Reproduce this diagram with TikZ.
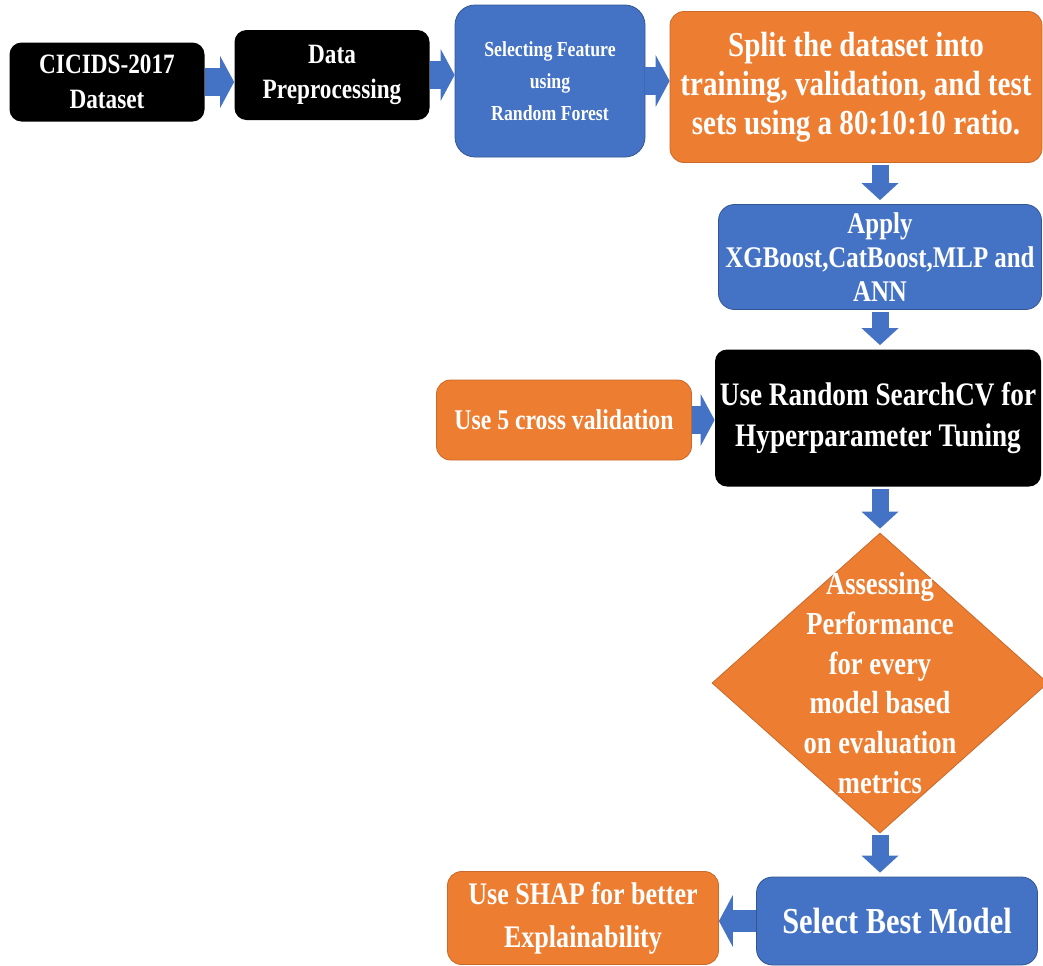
\documentclass[tikz,border=0pt]{standalone}
\usepackage{fontspec}
\setmainfont[FakeStretch=0.83]{Liberation Serif}
\usepackage{tikz}
\usetikzlibrary{shapes.geometric,arrows.meta}
\definecolor{ppblue}{HTML}{4472C4}
\definecolor{pporange}{HTML}{ED7D31}
\newcommand{\fsz}[2]{\fontsize{#1}{#2}\selectfont}
\tikzstyle{blackbox} = [rectangle, rounded corners=6pt, fill=black, text=white,
                     align=center, inner sep=0pt]
\tikzstyle{bluebox} = [rectangle, rounded corners=8pt, draw=ppblue!75!black, fill=ppblue,
                     text=white, align=center, inner sep=0pt]
\tikzstyle{orangebox} = [rectangle, rounded corners=7pt, draw=pporange!85!black, fill=pporange,
                     text=white, align=center, inner sep=0pt]
\tikzstyle{decision} = [diamond, draw=pporange!85!black, fill=pporange, inner sep=0pt]
\tikzstyle{harrow} = [ppblue, line width=14pt, -{Triangle[width=26pt,length=7pt,line width=0pt]}]
\tikzstyle{varrow} = [ppblue, line width=8.5pt, shorten <=1pt, shorten >=2pt,
                     -{Triangle[width=18.5pt,length=8.5pt,line width=0pt]}]

\begin{document}
\begin{tikzpicture}[x=0.5pt, y=-0.5pt]
\useasboundingbox (0,0) rectangle (1043,965);
%top row
\node[blackbox, minimum width=97.5pt, minimum height=39.5pt, font=\bfseries\fsz{14}{17.5}] at (107,82) (dataset){CICIDS-2017\\Dataset};
\node[blackbox, minimum width=97.5pt, minimum height=45pt, font=\bfseries\fsz{14}{17.5}] at (332,75) (prep){Data\\Preprocessing};
\node[bluebox, rounded corners=10pt, minimum width=95pt, minimum height=76pt, font=\bfseries\fsz{10.7}{16}] at (550,81) (feat){Selecting Feature\\using\\Random Forest};
\node[orangebox, minimum width=186pt, minimum height=75.5pt, font=\bfseries\fsz{17.5}{19.5}] at (856,87) (split){Split the dataset into\\training, validation, and test\\sets using a 80:10:10 ratio.};

%models and tuning
\node[bluebox, minimum width=161.5pt, minimum height=52.5pt, font=\bfseries\fsz{15}{17}] at (880,257) (apply){Apply\\XGBoost,CatBoost,MLP and\\ANN};
\node[orangebox, minimum width=127.5pt, minimum height=40pt, font=\bfseries\fsz{14.3}{17}] at (564,420) (cv){Use 5 cross validation};
\node[blackbox, minimum width=163pt, minimum height=68.5pt, font=\bfseries\fsz{16.4}{20.5}] at (878,418) (tune){Use Random SearchCV for\\Hyperparameter Tuning};

%evaluation
\node[decision, minimum width=168pt, minimum height=150pt] at (880,683) (assess){};
\node[text=white, align=center, font=\bfseries\fsz{16}{19.9}] at (880,683) (assesstxt){Assessing\\Performance\\for every\\model based\\on evaluation\\metrics};

%result
\node[bluebox, minimum width=140.5pt, minimum height=44pt, font=\bfseries\fsz{18.3}{21}] at (897,921) (best){Select Best Model};
\node[orangebox, minimum width=135.5pt, minimum height=46.5pt, font=\bfseries\fsz{15.7}{21.5}] at (583,918) (shap){Use SHAP for better\\Explainability};

%arrows
\coordinate (col) at (880,0);
\draw[harrow] (dataset.east) -- (dataset.east -| prep.west);
\draw[harrow] (prep.east) -- (prep.east -| feat.west);
\draw[harrow] (feat.east) -- (feat.east -| split.west);
\draw[varrow] (split.south -| col) -- (apply.north -| col);
\draw[varrow] (apply.south -| col) -- (tune.north -| col);
\draw[harrow] (cv.east) -- (cv.east -| tune.west);
\draw[varrow] (tune.south -| col) -- (assess.north -| col);
\draw[varrow] (assess.south -| col) -- (best.north -| col);
\draw[harrow, line width=11pt] (best.west) -- (best.west -| shap.east);

\end{tikzpicture}
\end{document}
